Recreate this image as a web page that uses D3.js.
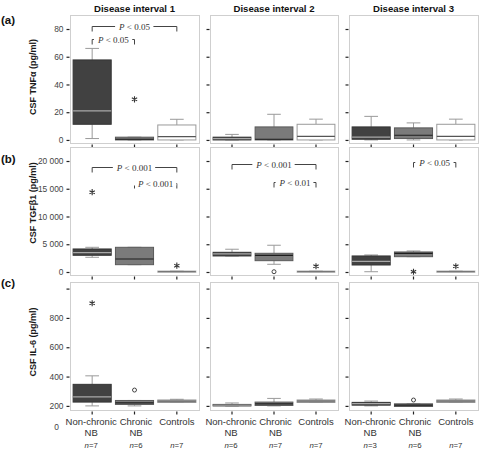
<!DOCTYPE html>
<html><head><meta charset="utf-8">
<script src="https://cdn.jsdelivr.net/npm/d3@7"></script>
<style>
html,body{margin:0;padding:0;background:#fff;}
text{font-family:"Liberation Sans",Arial,sans-serif;}
</style></head>
<body><svg id="chart" width="480" height="452"></svg>
<script>
// ---------------- data ----------------
const categories = ["Non-chronic NB", "Chronic NB", "Controls"];
const catLines = [["Non-chronic", "NB"], ["Chronic", "NB"], ["Controls"]];
const intervals = ["Disease interval 1", "Disease interval 2", "Disease interval 3"];
const nCounts = [[7, 6, 7], [6, 7, 7], [3, 6, 7]];
const rowLabels = ["(a)", "(b)", "(c)"];
const rowTitles = ["CSF TNF\u03b1 (pg/ml)", "CSF TGF\u03b21 (pg/ml)", "CSF IL-6 (pg/ml)"];

// box stats: [min, q1, median, q3, max] per interval, per category
const tnfStats = [
  [[1, 11.3, 21, 57.7, 66], [0, 0, 0.5, 2, 2], [0, 0, 2.4, 10.8, 14.9]],
  [[0, 0, 1, 2, 4], [0, 0, 0.5, 9.4, 18.5], [0, 0, 2.6, 11.3, 15]],
  [[0, 0.5, 2, 9.4, 17], [0, 1, 3.4, 8.7, 12.3], [0, 0, 2.6, 11.3, 15]]
];
const tgfStats = [
  [[2650, 3010, 3480, 4150, 4450], [1320, 1320, 2340, 4450, 4450], [0, 0, 60, 200, 200]],
  [[2890, 2890, 3250, 3550, 4100], [1390, 2040, 3010, 3370, 4820], [0, 0, 60, 200, 200]],
  [[50, 1260, 1900, 2890, 3070], [2760, 2760, 3370, 3610, 3790], [0, 0, 60, 200, 200]]
];
const il6Stats = [
  [[200, 226, 262, 347, 405], [200, 210, 221, 237, 237], [224, 224, 231, 240, 245]],
  [[200, 200, 205, 210, 220], [200, 203, 214, 226, 251], [224, 224, 233, 240, 247]],
  [[200, 205, 216, 224, 233], [196, 196, 205, 214, 214], [224, 224, 233, 240, 247]]
];
// outliers: [interval, category, value, kind]
const tnfOutliers = [[0, 1, 29.3, "star"]];
const tgfOutliers = [[0, 0, 14380, "star"], [0, 2, 1140, "star"], [1, 1, 50, "circle"],
                     [1, 2, 1030, "star"], [2, 1, 50, "star"], [2, 2, 1030, "star"]];
const il6Outliers = [[0, 0, 900, "star"], [0, 1, 308, "circle"], [2, 1, 240, "circle"]];

// significance brackets: [interval, fromCat, toCat, yValue, label]
const tnfBrackets = [[0, 0, 2, 82, "0.05"], [0, 0, 1, 72.5, "0.05"]];
const tgfBrackets = [[0, 0, 2, 18970, "0.001"], [0, 1, 2, 16040, "0.001"],
                     [1, 0, 2, 19460, "0.001"], [1, 1, 2, 16160, "0.01"],
                     [2, 1, 2, 19770, "0.05"]];
const il6Brackets = [];

// y tick values and labels
const tnfTicks = [0, 20, 40, 60, 80];
const tgfTicks = [0, 5000, 10000, 15000, 20000];
const il6Ticks = [200, 400, 600, 800, 1000];
const il6TickLabels = ["200", "400", "600", "800", ""];

// ---------------- layout ----------------
const colX = [[70, 199], [210, 338], [349, 478]];
const rowY = [[15, 143], [147, 275], [282, 410]];
const yDomains = [[-2.2, 90.1], [-541, 22523], [172, 1045]];

const rows = [
  {stats: tnfStats, outliers: tnfOutliers, brackets: tnfBrackets, ticks: tnfTicks,
   fmt: d => String(d)},
  {stats: tgfStats, outliers: tgfOutliers, brackets: tgfBrackets, ticks: tgfTicks,
   fmt: d => d >= 1000 ? d3.format(",")(d).replace(",", " ") : String(d)},
  {stats: il6Stats, outliers: il6Outliers, brackets: il6Brackets, ticks: il6Ticks,
   fmt: (d, i) => il6TickLabels[i]}
];

const fills = ["#414141", "#7b7b7b", "#ffffff"];
const strokes = ["#353535", "#5a5a5a", "#9a9a9a"];
const medColors = ["#a8a8a8", "#1e1e1e", "#555555"];
const whiskerColor = "#9a9a9a";

const svg = d3.select("#chart");

// column titles
intervals.forEach((t, c) => {
  svg.append("text").attr("x", (colX[c][0] + colX[c][1]) / 2).attr("y", 12)
    .attr("text-anchor", "middle").attr("font-size", 9.6).attr("font-weight", "bold")
    .attr("fill", "#111").text(t);
});

rows.forEach((row, r) => {
  const [top, bottom] = rowY[r];
  const y = d3.scaleLinear().domain(yDomains[r]).range([bottom, top]);

  // row label
  svg.append("text").attr("x", 1).attr("y", top + [9, 16, 5][r])
    .attr("font-size", 11.5).attr("font-weight", "bold").attr("fill", "#111").text(rowLabels[r]);
  // y title
  svg.append("text")
    .attr("transform", `translate(36,${[77, 203, 342][r]}) rotate(-90)`)
    .attr("text-anchor", "middle").attr("font-size", 9).attr("font-weight", "bold")
    .attr("fill", "#1a1a1a").text(rowTitles[r]);

  intervals.forEach((iv, c) => {
    const [left, right] = colX[c];
    const x = d3.scaleBand().domain(categories).range([left + 1, right - 1])
      .paddingInner(0.1).paddingOuter(0.05);
    const g = svg.append("g");

    // panel border
    g.append("rect").attr("x", left + 0.5).attr("y", top + 0.5)
      .attr("width", right - left).attr("height", bottom - top)
      .attr("fill", "#fff").attr("stroke", "#cfcfcf").attr("stroke-width", 1);

    // y axis
    const yAxis = d3.axisLeft(y).tickValues(row.ticks).tickSize(3).tickPadding(3)
      .tickFormat(c === 0 ? row.fmt : () => "");
    const ya = g.append("g").attr("transform", `translate(${left - 0.5},0)`).call(yAxis);
    ya.select(".domain").remove();
    ya.selectAll(".tick line").attr("stroke", "#222").attr("stroke-width", 1.2);
    ya.selectAll(".tick text").attr("font-size", 8.4).attr("fill", "#444")
      .attr("font-family", '"Liberation Sans",Arial,sans-serif');

    // x axis
    const xAxis = d3.axisBottom(x).tickSize(3).tickPadding(6).tickFormat(() => "");
    const xa = g.append("g").attr("transform", `translate(0,${bottom + 1.5})`).call(xAxis);
    xa.select(".domain").remove();
    xa.selectAll(".tick line").attr("stroke", "#222").attr("stroke-width", 1.2);

    // boxes
    categories.forEach((cat, k) => {
      const [mn, q1, md, q3, mx] = row.stats[c][k];
      const bx = x(cat), bw = x.bandwidth(), cx = bx + bw / 2, cw = bw * 0.36;
      const bg = g.append("g");
      // whiskers
      bg.append("line").attr("x1", cx).attr("x2", cx).attr("y1", y(mx)).attr("y2", y(q3))
        .attr("stroke", whiskerColor);
      bg.append("line").attr("x1", cx).attr("x2", cx).attr("y1", y(q1)).attr("y2", y(mn))
        .attr("stroke", whiskerColor);
      bg.append("line").attr("x1", cx - cw / 2).attr("x2", cx + cw / 2).attr("y1", y(mx)).attr("y2", y(mx))
        .attr("stroke", whiskerColor);
      bg.append("line").attr("x1", cx - cw / 2).attr("x2", cx + cw / 2).attr("y1", y(mn)).attr("y2", y(mn))
        .attr("stroke", whiskerColor);
      // box
      const h = Math.max(y(q1) - y(q3), 1.5);
      const flat = (y(q1) - y(q3)) < 4 && k === 2;
      bg.append("rect").attr("x", bx).attr("y", y(q3)).attr("width", bw).attr("height", h)
        .attr("fill", flat ? (r === 2 ? "#9a9a9a" : "#cfcfcf") : fills[k])
        .attr("stroke", flat ? (r === 2 ? "#8a8a8a" : "#c4c4c4") : strokes[k]).attr("stroke-width", 1);
      // median
      bg.append("line").attr("x1", bx).attr("x2", bx + bw).attr("y1", y(md)).attr("y2", y(md))
        .attr("stroke", flat ? "#777" : medColors[k]).attr("stroke-width", 1.2);
    });

    // outliers
    row.outliers.filter(o => o[0] === c).forEach(o => {
      const cx = x(categories[o[1]]) + x.bandwidth() / 2, cy = y(o[2]);
      if (o[3] === "star") {
        g.append("path").attr("transform", `translate(${cx},${cy})`)
          .attr("d", d3.symbol(d3.symbolAsterisk, 26)())
          .attr("stroke", "#333").attr("stroke-width", 1.1).attr("fill", "none");
      } else {
        g.append("circle").attr("cx", cx).attr("cy", cy).attr("r", 2)
          .attr("fill", "none").attr("stroke", "#444").attr("stroke-width", 1);
      }
    });

    // brackets
    row.brackets.filter(b => b[0] === c).forEach(b => {
      const x1 = x(categories[b[1]]) + x.bandwidth() / 2;
      const x2 = x(categories[b[2]]) + x.bandwidth() / 2;
      const by = Math.round(y(b[3])) + 0.5;
      const bgp = g.append("g");
      bgp.append("path").attr("d", `M${x1},${by + 5}V${by}H${x2}V${by + 5}`)
        .attr("fill", "none").attr("stroke", "#444").attr("stroke-width", 1);
      const mask = bgp.append("rect").attr("fill", "#fff");
      const t = bgp.append("text").attr("x", (x1 + x2) / 2).attr("y", by + 3)
        .attr("text-anchor", "middle").attr("font-size", 9)
        .style("font-family", '"Liberation Serif","Times New Roman",serif').attr("fill", "#333");
      t.append("tspan").attr("font-style", "italic").text("P");
      t.append("tspan").text(" < " + b[4]);
      const bb = t.node().getBBox();
      mask.attr("x", bb.x - 3).attr("y", by - 2).attr("width", bb.width + 6).attr("height", 4);
    });

    // category labels under bottom row
    if (r === 2) {
      categories.forEach((cat, k) => {
        const cx = x(cat) + x.bandwidth() / 2 + (k === 0 ? -1 : k === 1 ? 1.5 : 0);
        catLines[k].forEach((ln, li) => {
          svg.append("text").attr("x", cx).attr("y", 424.5 + li * 11)
            .attr("text-anchor", "middle").attr("font-size", 9.5).attr("fill", "#333").text(ln);
        });
        const nt = svg.append("text").attr("x", cx).attr("y", 448)
          .attr("text-anchor", "middle").attr("font-size", 7.8).attr("fill", "#333");
        nt.append("tspan").attr("font-style", "italic").text("n");
        nt.append("tspan").text("=" + nCounts[c][k]);
      });
    }
  });
});

// stray zero label under the IL-6 axis
svg.append("text").attr("x", 59).attr("y", 430).attr("text-anchor", "end")
  .attr("font-size", 8.4).attr("fill", "#444").text("0");
</script>
</body></html>
